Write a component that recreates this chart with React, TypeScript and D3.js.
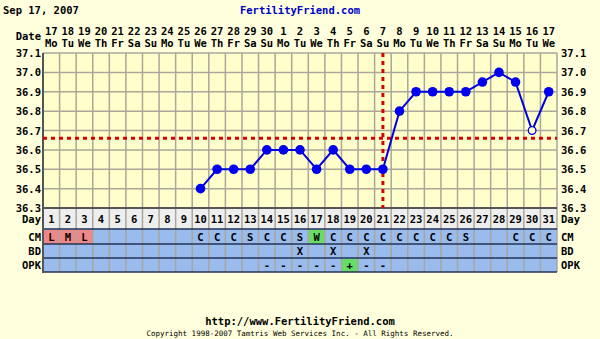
import React from "react";
import * as d3 from "d3";

const dayNums = d3.range(1, 32);
const dateLabels = ["17","18","19","20","21","22","23","24","25","26","27","28","29","30","1","2","3","4","5","6","7","8","9","10","11","12","13","14","15","16","17"];
const weekdayLabels = ["Mo","Tu","We","Th","Fr","Sa","Su","Mo","Tu","We","Th","Fr","Sa","Su","Mo","Tu","We","Th","Fr","Sa","Su","Mo","Tu","We","Th","Fr","Sa","Su","Mo","Tu","We"];
const tempDays = [10,11,12,13,14,15,16,17,18,19,20,21,22,23,24,25,26,27,28,29,30,31];
const temps = [36.4,36.5,36.5,36.5,36.6,36.6,36.6,36.5,36.6,36.5,36.5,36.5,36.8,36.9,36.9,36.9,36.9,36.95,37.0,36.95,36.7,36.9];
const discardedDays = [30];
const yTicks = [36.3,36.4,36.5,36.6,36.7,36.8,36.9,37.0,37.1];
const coverline = 36.66;
const ovulationDay = 21;
const cmValues = ["L","M","L","","","","","","","C","C","C","S","C","C","S","W","C","C","C","C","C","C","C","C","S","","","C","C","C"];
const cmColors: Record<string,string> = { L: "#ee8888", M: "#ee8888", W: "#66dd66" };
const bdValues = ["","","","","","","","","","","","","","","","X","","X","","X","","","","","","","","","","",""];
const opkValues = ["","","","","","","","","","","","","","-","-","-","-","-","+","-","-","","","","","","","","","",""];
const opkColors: Record<string,string> = { "+": "#66dd66" };

const W = 600, H = 339;
const left = 43, right = 557;
const top = 53, bottom = 208;
const font = "'DejaVu Sans Mono', monospace";

export default function App() {
  const x = d3.scaleBand<number>().domain(dayNums).range([left, right]);
  const cx = (d: number) => (x(d) as number) + x.bandwidth() / 2;
  const y = d3.scaleLinear().domain([36.3, 37.1]).range([bottom, top]);
  const line = d3.line<number>().x((_, i) => cx(tempDays[i])).y((t) => y(t));
  const bw = x.bandwidth();

  const rows = [
    { label: "CM", y0: 229, y1: 244, vals: cmValues, colors: cmColors },
    { label: "BD", y0: 244, y1: 258, vals: bdValues, colors: {} as Record<string,string> },
    { label: "OPK", y0: 258, y1: 272, vals: opkValues, colors: opkColors },
  ];

  return (
    <svg width={W} height={H} style={{ position: "absolute", left: 0, top: 0, background: "#ffffdd" }}>
      <rect x={0} y={0} width={W} height={H} fill="#ffffdd" />
      <text x={3} y={14} fontFamily={font} fontWeight="bold" fontSize={10.5} fill="#000">Sep 17, 2007</text>
      <text x={300} y={14} textAnchor="middle" fontFamily={font} fontWeight="bold" fontSize={10.5} fill="#0000cc">FertilityFriend.com</text>

      <text x={41} y={40} textAnchor="end" fontFamily={font} fontWeight="bold" fontSize={10.5}>Date</text>
      {dayNums.map((d, i) => (
        <g key={"h" + d}>
          <text x={cx(d)} y={35} textAnchor="middle" fontFamily={font} fontWeight="bold" fontSize={10.5}>{dateLabels[i]}</text>
          <text x={cx(d)} y={47} textAnchor="middle" fontFamily={font} fontWeight="bold" fontSize={10.5}>{weekdayLabels[i]}</text>
        </g>
      ))}

      <rect x={left} y={top} width={right - left} height={bottom - top} fill="#ffffcc" />
      {yTicks.map((t) => (
        <g key={"y" + t}>
          <line x1={left} x2={right} y1={y(t)} y2={y(t)} stroke="#aaa69a" strokeWidth={1.5} />
          <text x={41} y={y(t) + 4} textAnchor="end" fontFamily={font} fontWeight="bold" fontSize={10.5}>{t.toFixed(1)}</text>
          <text x={561} y={y(t) + 4} textAnchor="start" fontFamily={font} fontWeight="bold" fontSize={10.5}>{t.toFixed(1)}</text>
        </g>
      ))}

      <rect x={left} y={bottom} width={right - left} height={21} fill="#eeeeee" />
      {rows.map((r) => (
        <g key={r.label}>
          <rect x={left} y={r.y0} width={right - left} height={r.y1 - r.y0} fill="#99bbee" />
          {r.vals.map((v, i) =>
            r.colors[v] ? (
              <rect key={i} x={x(i + 1) as number} y={r.y0 + 1} width={bw} height={r.y1 - r.y0 - 1} fill={r.colors[v]} />
            ) : null
          )}
        </g>
      ))}

      {d3.range(0, 32).map((i) => {
        const xx = i < 31 ? (x(i + 1) as number) : right;
        return <line key={"v" + i} x1={xx} x2={xx} y1={top} y2={272} stroke="#aaa69a" strokeWidth={1.5} />;
      })}
      {rows.map((r) => (
        <line key={"s" + r.label} x1={left} x2={right} y1={r.y0} y2={r.y0} stroke="#223355" strokeWidth={1.5} />
      ))}
      <line x1={left} x2={right} y1={272} y2={272} stroke="#223355" strokeWidth={1.5} />
      <line x1={left} x2={right} y1={bottom} y2={bottom} stroke="#555" strokeWidth={2} />
      <line x1={left} x2={left} y1={top} y2={273} stroke="#555" strokeWidth={2} />

      {dayNums.map((d) => (
        <text key={"d" + d} x={cx(d)} y={223} textAnchor="middle" fontFamily={font} fontWeight="bold" fontSize={10.5}>{d}</text>
      ))}
      <text x={41} y={223} textAnchor="end" fontFamily={font} fontWeight="bold" fontSize={10.5}>Day</text>
      <text x={561} y={223} fontFamily={font} fontWeight="bold" fontSize={10.5}>Day</text>
      {rows.map((r) => (
        <g key={"l" + r.label}>
          <text x={41} y={r.y1 - 3} textAnchor="end" fontFamily={font} fontWeight="bold" fontSize={10.5}>{r.label}</text>
          <text x={561} y={r.y1 - 3} fontFamily={font} fontWeight="bold" fontSize={10.5}>{r.label}</text>
          {r.vals.map((v, i) =>
            v ? (
              <text key={i} x={cx(i + 1)} y={r.y1 - 3} textAnchor="middle" fontFamily={font} fontWeight="bold" fontSize={10.5}>{v}</text>
            ) : null
          )}
        </g>
      ))}

      <line x1={left} x2={right} y1={y(coverline)} y2={y(coverline)} stroke="#dd0000" strokeWidth={3} strokeDasharray="4,4" />
      <line x1={cx(ovulationDay)} x2={cx(ovulationDay)} y1={top} y2={bottom} stroke="#dd0000" strokeWidth={3} strokeDasharray="4,4" />

      <path d={line(temps) || ""} fill="none" stroke="#0000dd" strokeWidth={2} />
      {temps.map((t, i) => {
        const hollow = discardedDays.includes(tempDays[i]);
        return (
          <circle key={"p" + i} cx={cx(tempDays[i])} cy={y(t)} r={hollow ? 3.8 : 4.8}
            fill={hollow ? "#ffffcc" : "#0000ee"} stroke="#0000ee" strokeWidth={hollow ? 1.3 : 0} />
        );
      })}

      <text x={300} y={325} textAnchor="middle" fontFamily={font} fontWeight="bold" fontSize={10.5}>http://www.FertilityFriend.com</text>
      <text x={300} y={336} textAnchor="middle" fontFamily={font} fontSize={7.5}>Copyright 1998-2007 Tamtris Web Services Inc. - All Rights Reserved.</text>
    </svg>
  );
}
